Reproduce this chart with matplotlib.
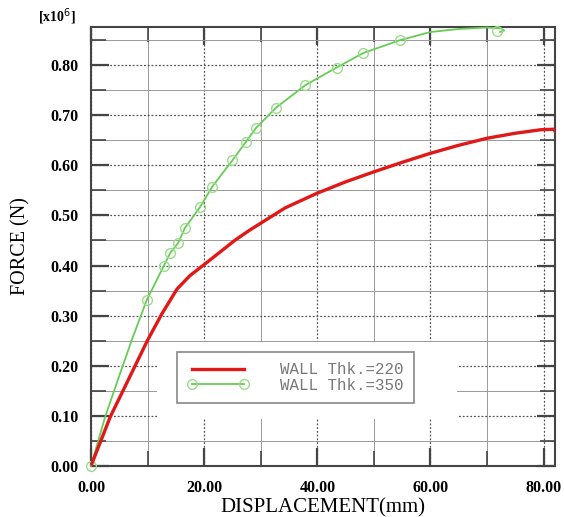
import matplotlib
matplotlib.use("Agg")
import matplotlib.pyplot as plt
from matplotlib.ticker import MultipleLocator
from matplotlib.lines import Line2D
from matplotlib.patches import Rectangle

# WALL Thk.=220 (red)
disp_220 = [0.0, 3.4, 6.6, 10.0, 12.5, 15.2, 17.5, 19.9, 25.5, 28.1, 34.3, 39.9, 45.0,
            50.0, 55.0, 60.0, 65.0, 70.0, 75.0, 79.5, 81.8, 82.1]
force_220 = [0.0, 0.098, 0.172, 0.251, 0.303, 0.353, 0.380, 0.401, 0.451, 0.471, 0.515,
             0.544, 0.567, 0.587, 0.606, 0.624, 0.640, 0.654, 0.664, 0.671, 0.672, 0.666]

# WALL Thk.=350 (green)
disp_350 = [0.0, 2.5, 5.0, 7.2, 9.85, 12.9, 14.0, 15.4, 16.6, 19.3, 21.4, 25.0, 27.4,
            29.2, 32.7, 37.9, 43.4, 48.1, 54.7, 60.0, 65.0, 70.0, 72.5, 73.0, 72.3]
force_350 = [0.0, 0.098, 0.180, 0.251, 0.331, 0.40, 0.425, 0.445, 0.475, 0.517, 0.557,
             0.61, 0.647, 0.675, 0.715, 0.76, 0.795, 0.824, 0.85, 0.866, 0.872, 0.875,
             0.873, 0.869, 0.866]
marker_x = [0.0, 9.85, 12.9, 14.0, 15.4, 16.6, 19.3, 21.4, 25.0, 27.4, 29.2, 32.7,
            37.9, 43.4, 48.1, 54.7, 71.8]
marker_y = [0.0, 0.331, 0.40, 0.425, 0.445, 0.475, 0.517, 0.557, 0.61, 0.647, 0.675,
            0.715, 0.76, 0.795, 0.824, 0.85, 0.867]

serif = ["Liberation Serif", "DejaVu Serif"]
red = "#e01818"
green = "#66cc55"
green_mk = "#99dd88"

fig = plt.figure(figsize=(5.64, 5.17), dpi=100)
ax = fig.add_axes([0.1613, 0.0986, 0.8227, 0.8492])

ax.plot(disp_350, force_350, color=green, lw=1.3, zorder=3, clip_on=False)
ax.plot(marker_x, marker_y, ls="none", marker="o", ms=7, mfc="none",
        mec=green_mk, mew=1.0, zorder=4, clip_on=False)
ax.plot(disp_220, force_220, color=red, lw=2.4, zorder=5)

ax.set_xlim(0, 82)
ax.set_ylim(0, 0.876)
ax.xaxis.set_major_locator(MultipleLocator(20))
ax.xaxis.set_minor_locator(MultipleLocator(10))
ax.yaxis.set_major_locator(MultipleLocator(0.1))
ax.yaxis.set_minor_locator(MultipleLocator(0.05))
ax.xaxis.set_major_formatter(lambda v, p: f"{v:.2f}")
ax.yaxis.set_major_formatter(lambda v, p: f"{v:.2f}")

ax.grid(which="major", color="#555555", ls=(0, (1.5, 1.5)), lw=0.9)
ax.grid(which="minor", color="#999999", ls="-", lw=0.7)
ax.tick_params(which="both", direction="in", top=True, right=True, color="#444444")
ax.tick_params(which="major", length=13, width=1.6)
ax.tick_params(which="minor", length=11, width=1.2)
for lab in ax.get_xticklabels() + ax.get_yticklabels():
    lab.set_family(serif)
    lab.set_fontweight("bold")
    lab.set_fontsize(11.5)
ax.tick_params(axis="x", pad=10)
ax.tick_params(axis="y", pad=9)
for s in ax.spines.values():
    s.set_color("#444444")
    s.set_linewidth(1.5)

# white area behind the legend hides the grid
ax.add_patch(Rectangle((0.142, 0.107), 0.647, 0.175, transform=ax.transAxes,
                       facecolor="white", edgecolor="none", zorder=2))

ax.set_xlabel("DISPLACEMENT(mm)", family=serif, fontsize=15, labelpad=2)
ax.set_ylabel("FORCE (N)", family=serif, fontsize=14.5, labelpad=14)
fig.text(0.068, 0.968, r"[x10$^6$]", family=serif, fontweight="bold", fontsize=10,
         ha="left", va="center")

h1 = Line2D([], [], color=red, lw=2.4)
h2 = Line2D([], [], color=green, lw=1.3, marker="o", mfc="none", mec=green_mk, ms=7)
leg = ax.legend([h1, h2], ["WALL Thk.=220", "WALL Thk.=350"], loc="upper left",
                bbox_to_anchor=(177 / 564, 1 - 352 / 517), bbox_transform=fig.transFigure,
                borderaxespad=0, numpoints=2,
                prop={"family": "Liberation Mono", "size": 11.3},
                frameon=True, fancybox=False, framealpha=1, handlelength=3.9,
                handletextpad=2.0, borderpad=0.65, labelspacing=0.05)
leg.set_zorder(6)
leg.get_frame().set_edgecolor("#888888")
leg.get_frame().set_linewidth(1.2)
for t in leg.get_texts():
    t.set_color("#777777")

fig.savefig("out.png", dpi=100)
